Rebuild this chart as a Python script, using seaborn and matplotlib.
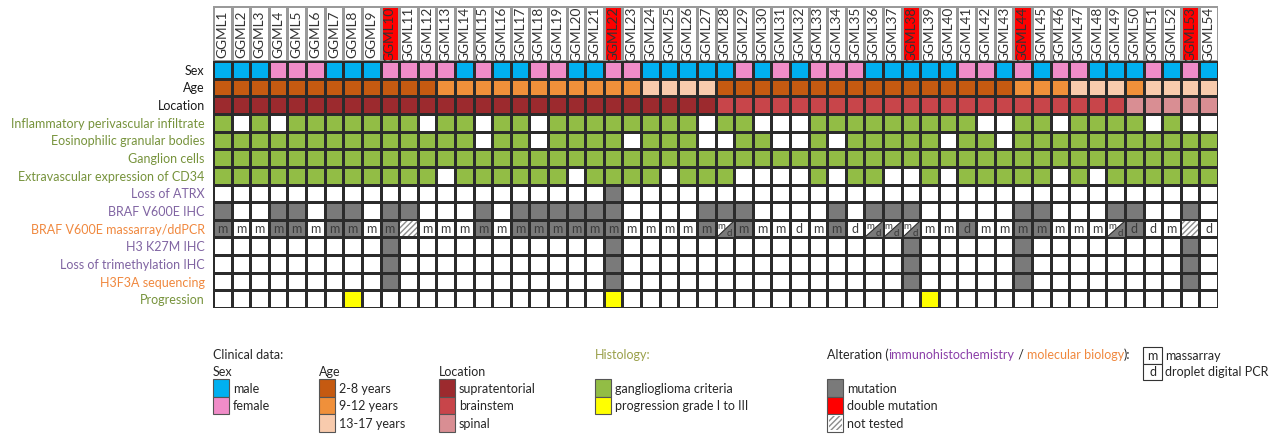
import numpy as np
import pandas as pd
import matplotlib.pyplot as plt
import seaborn as sns
from matplotlib.colors import ListedColormap
from matplotlib.patches import Rectangle, Polygon

sns.set_style('white')
plt.rcParams['font.family'] = ['Lato', 'DejaVu Sans']

# ---- data (one character per case GGML1..GGML54, spaces only for reading) ----
cases = [f'GGML{i}' for i in range(1, 55)]
double_mutation = [10, 22, 38, 44, 53]

sex = 'MMMFFFMMMF FFFMFMMFFM MFFMMMMMFM FMFFFMMMMM FFMFMFFMMM FMFM'
age = '1111111111 1122222222 2223333111 1111111111 1112223332 3333'
location = 'SSSSSSSSSS SSSSSSSSSS SSSSSSSBBB BBBBBBBBBB BBBBBBBBBP PPPP'
inflammatory = '1010111111 1011011011 1111110110 0011111111 1001101111 0100'
eosinophilic = '1111111111 1111011011 1101110011 0010111110 1101111111 1111'
ganglion = '1111111111 1111111111 1111111111 1111111111 1111111111 1111'
cd34 = '1111111111 1101111110 1111011100 0010110010 1111101011 1111'
atrx_loss = [22]
braf_ihc = '1001101101 1000101111 1100001110 0001011100 0001100011 0010'
# 0 wild type, 1 mutation, 2 not tested, 3 massarray wt / ddPCR mutated
braf_mol = '1001101101 2000101111 1100001310 0001033300 1001100031 0020'
braf_method = 'mmmmmmmmmm -mmmmmmmmm mmmmmmmsmm mdmmdsssmm dmmmmmmmsd dm-d'
h3k27m_ihc = [10, 22, 38, 44, 53]
trimethylation_loss = [10, 22, 38, 44, 53]
h3f3a_seq = [10, 22, 38, 44, 53]
progression = [8, 22, 39]

row_labels = ['Sex', 'Age', 'Location', 'Inflammatory perivascular infiltrate',
              'Eosinophilic granular bodies', 'Ganglion cells',
              'Extravascular expression of CD34', 'Loss of ATRX', 'BRAF V600E IHC',
              'BRAF V600E massarray/ddPCR', 'H3 K27M IHC',
              'Loss of trimethylation IHC', 'H3F3A sequencing', 'Progression']
label_colors = ['#1a1a1a'] * 3 + ['#77933C'] * 4 + ['#8064A2'] * 2 + ['#F0883E'] + \
               ['#8064A2'] * 2 + ['#F0883E'] + ['#77933C']

palette = ['#FFFFFF', '#00B0F0', '#F08CC8', '#C55A11', '#F0903A', '#F8CBAD',
           '#9C2A2E', '#C8454A', '#D98E93', '#92BD45', '#FFFF00', '#7A7A7A']


def chars(s):
    return [c for c in s if c != ' ']


def from_list(idx, code):
    return [code if i in idx else 0 for i in range(1, 55)]


rows = [
    [{'M': 1, 'F': 2}[c] for c in chars(sex)],
    [{'1': 3, '2': 4, '3': 5}[c] for c in chars(age)],
    [{'S': 6, 'B': 7, 'P': 8}[c] for c in chars(location)],
    [9 * int(c) for c in chars(inflammatory)],
    [9 * int(c) for c in chars(eosinophilic)],
    [9 * int(c) for c in chars(ganglion)],
    [9 * int(c) for c in chars(cd34)],
    from_list(atrx_loss, 11),
    [11 * int(c) for c in chars(braf_ihc)],
    [11 if c == '1' else 0 for c in chars(braf_mol)],
    from_list(h3k27m_ihc, 11),
    from_list(trimethylation_loss, 11),
    from_list(h3f3a_seq, 11),
    from_list(progression, 10),
]
grid = pd.DataFrame(rows, index=row_labels, columns=cases)

W, H = 1270, 435
fig = plt.figure(figsize=(W / 100, H / 100), dpi=100)


def px_axes(x0, y0, x1, y1):
    return fig.add_axes([x0 / W, 1 - y1 / H, (x1 - x0) / W, (y1 - y0) / H])


# ---- main grid ----
ax = px_axes(213, 62, 1218, 309)
sns.heatmap(grid, ax=ax, cmap=ListedColormap(palette), vmin=-0.5, vmax=len(palette) - 0.5,
            cbar=False, linewidths=0.9, linecolor='#2b2b2b', xticklabels=False, yticklabels=True)
ax.tick_params(axis='y', length=0, pad=6)
for t, c in zip(ax.get_yticklabels(), label_colors):
    t.set_color(c)
    t.set_fontsize(9)
    t.set_rotation(0)

r = row_labels.index('BRAF V600E massarray/ddPCR')
for j, (st, me) in enumerate(zip(chars(braf_mol), chars(braf_method))):
    if st == '2':
        ax.add_patch(Rectangle((j + 0.06, r + 0.06), 0.88, 0.88, facecolor='white',
                               edgecolor='#8c8c8c', hatch='//////', lw=0))
    elif st == '3':
        ax.add_patch(Polygon([(j, r + 1), (j + 1, r + 1), (j + 1, r)], closed=True,
                             facecolor=palette[11], edgecolor='#2b2b2b', lw=0.8))
        ax.text(j + 0.3, r + 0.32, 'm', ha='center', va='center', fontsize=7, color='#3a3a3a')
        ax.text(j + 0.74, r + 0.72, 'd', ha='center', va='center', fontsize=7, color='#3a3a3a')
    if me in 'md' and st != '3':
        ax.text(j + 0.5, r + 0.47, me, ha='center', va='center', fontsize=9, color='#3a3a3a')

# ---- case header ----
hdr = px_axes(213, 7, 1218, 62)
head = pd.DataFrame([from_list(double_mutation, 1)], columns=cases)
sns.heatmap(head, ax=hdr, cmap=ListedColormap(['#FFFFFF', '#FF0000']), vmin=0, vmax=1,
            cbar=False, annot=np.array([cases]), fmt='',
            annot_kws={'rotation': 90, 'fontsize': 9.8, 'color': '#333333'},
            linewidths=0.9, linecolor='#9a9a9a', xticklabels=False, yticklabels=False)

# ---- legend ----
lg = px_axes(0, 0, W, H)
lg.set_xlim(0, W)
lg.set_ylim(H, 0)
lg.axis('off')
fs = 9


def box(x, y, color, hatch=None):
    lg.add_patch(Rectangle((x, y), 16, 17.5, facecolor=color, edgecolor='#555555', lw=0.8,
                           hatch=hatch))


def legend_group(x, title, items, colors):
    if title:
        lg.text(x, 372, title, fontsize=fs, va='center', color='#262626')
    for k, (name, col) in enumerate(zip(items, colors)):
        y = 380 + k * 17.5
        box(x, y, col)
        lg.text(x + 20, y + 9, name, fontsize=fs, va='center', color='#262626')


lg.text(213, 355, 'Clinical data:', fontsize=fs, va='center', color='#262626')
legend_group(213, 'Sex', ['male', 'female'], palette[1:3])
legend_group(319, 'Age', ['2-8 years', '9-12 years', '13-17 years'], palette[3:6])
legend_group(439, 'Location', ['supratentorial', 'brainstem', 'spinal'], palette[6:9])
lg.text(595, 355, 'Histology:', fontsize=fs, va='center', color='#9AA04A')
legend_group(595, None, ['ganglioglioma criteria', 'progression grade I to III'], palette[9:11])

# alteration title in several colours
renderer = fig.canvas.get_renderer()
x = 827
for part, col in [('Alteration (', '#262626'), ('immunohistochemistry', '#8B3FA8'),
                  (' / ', '#262626'), ('molecular biology', '#F0883E'), ('):', '#262626')]:
    t = lg.text(x, 355, part, fontsize=fs, va='center', color=col)
    bb = t.get_window_extent(renderer)
    x += bb.width
legend_group(827, None, ['mutation', 'double mutation', 'not tested'],
             [palette[11], '#FF0000', '#FFFFFF'])
lg.add_patch(Rectangle((827 + 1.5, 380 + 35 + 1.5), 13, 14.5, facecolor='white',
                       edgecolor='#8c8c8c', hatch='//////', lw=0))

for k, (letter, name) in enumerate([('m', 'massarray'), ('d', 'droplet digital PCR')]):
    y = 348 + k * 16.5
    lg.add_patch(Rectangle((1143, y), 19, 16.5, facecolor='white', edgecolor='#333333', lw=0.8))
    lg.text(1152.5, y + 8, letter, fontsize=fs, ha='center', va='center', color='#262626')
    lg.text(1165, y + 8, name, fontsize=fs, va='center', color='#262626')

fig.savefig('out.png', dpi=100)
